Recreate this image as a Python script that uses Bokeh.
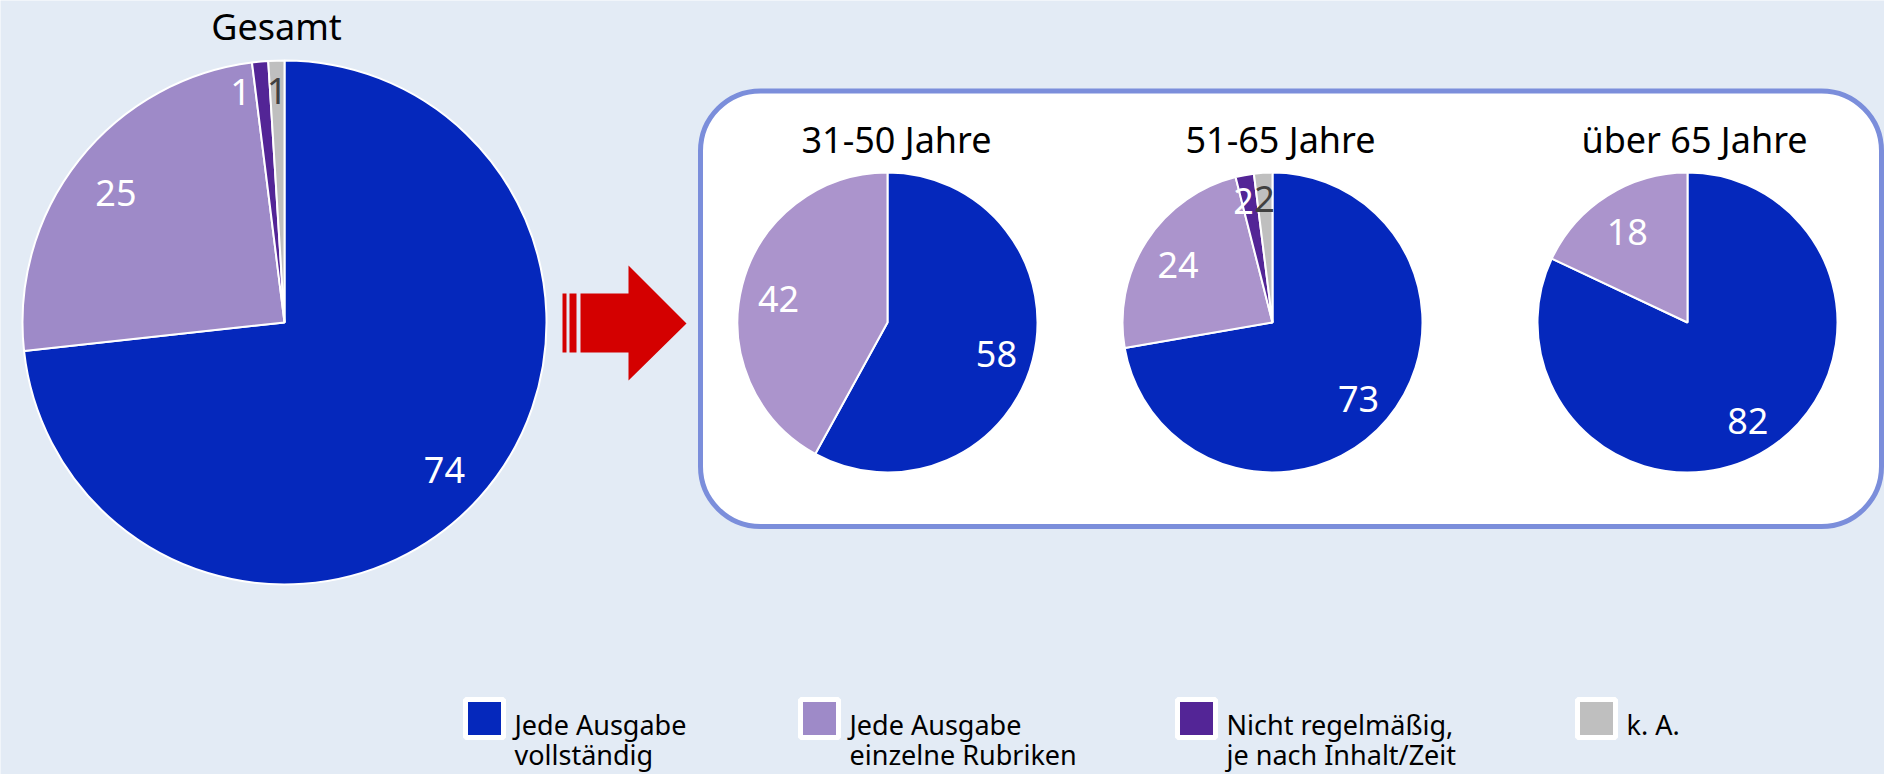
import math
from bokeh.plotting import figure
from bokeh.models import Range1d, BoxAnnotation, ColumnDataSource
from bokeh.core.properties import value
from bokeh.embed import file_html
from bokeh.resources import INLINE

# ---------------- data ----------------
categories = ["Jede Ausgabe\nvollständig", "Jede Ausgabe\neinzelne Rubriken",
              "Nicht regelmäßig,\nje nach Inhalt/Zeit", "k. A."]
groups = ["Gesamt", "31-50 Jahre", "51-65 Jahre", "über 65 Jahre"]
gesamt = [74, 25, 1, 1]
jahre_31_50 = [58, 42, 0, 0]
jahre_51_65 = [73, 24, 2, 2]
jahre_ueber_65 = [82, 18, 0, 0]
series = [gesamt, jahre_31_50, jahre_51_65, jahre_ueber_65]

# ---------------- style ----------------
BG = "#E3EBF5"
BLUE = "#0528BC"
LAV_BIG = "#9E8AC8"
LAV_SMALL = "#AB94CC"
PURPLE = "#532596"
GRAY = "#BFBFBF"
FONT = value("Noto Sans")

W, H = 1884, 774


def Y(py):
    return H - py


p = figure(width=W, height=H, output_backend="svg", toolbar_location=None,
           x_range=Range1d(0, W), y_range=Range1d(0, H),
           min_border=0, outline_line_color=None,
           background_fill_color=BG, border_fill_color=BG)
p.axis.visible = False
p.grid.visible = False

# rounded white box behind the age-group pies
box = BoxAnnotation(left=700, right=1881, top=Y(90.5), bottom=Y(526),
                    fill_color="white", fill_alpha=1.0,
                    line_color="#7B8EDB", line_width=5, line_alpha=1.0,
                    border_radius=60, level="underlay")
p.add_layout(box)

# red arrow
p.patch(x=[580, 628, 628, 686, 628, 628, 580],
        y=[Y(293), Y(293), Y(265), Y(323), Y(380), Y(352), Y(352)],
        fill_color="#D40000", line_color=None)
p.quad(left=[562, 569], right=[566, 576], top=[Y(293)] * 2, bottom=[Y(352)] * 2,
       fill_color="#D40000", line_color=None)

# pies: (center x, center y, radius, lavender colour, label radius factors)
layouts = [
    (284, 322, 262, LAV_BIG, 0.82, 0.90),
    (887, 322, 150, LAV_SMALL, 0.75, 0.85),
    (1272, 322, 150, LAV_SMALL, 0.75, 0.85),
    (1687, 322, 150, LAV_SMALL, 0.75, 0.85),
]
title_pos = [(276, 26), (896, 139), (1280, 139), (1694, 139)]

for vals, (cx, cy, r, lav, f_big, f_small), grp, (tx, ty) in zip(series, layouts, groups, title_pos):
    colors = [BLUE, lav, PURPLE, GRAY]
    label_colors = ["white", "white", "white", "#404040"]
    total = float(sum(vals))
    cum = 0.0
    d = dict(start=[], end=[], color=[])
    lab = dict(x=[], y=[], text=[], color=[], small=[])
    for v, c, lc in zip(vals, colors, label_colors):
        if v <= 0:
            continue
        c0 = cum / total
        c1 = (cum + v) / total
        cum += v
        d["start"].append(math.pi / 2 - 2 * math.pi * c1)
        d["end"].append(math.pi / 2 - 2 * math.pi * c0)
        d["color"].append(c)
        mid = math.pi / 2 - 2 * math.pi * (c0 + c1) / 2
        small = v / total < 0.03
        fr = f_small if small else f_big
        lab["x"].append(cx + fr * r * math.cos(mid))
        lab["y"].append(Y(cy) - 4 + fr * r * math.sin(mid))
        lab["text"].append(str(v))
        lab["color"].append(lc)
        lab["small"].append(small)
    # nudge neighbouring small-slice labels apart (as the original does)
    min_sep = 0.14 * r
    for i in range(len(lab["x"]) - 2, -1, -1):
        if lab["small"][i] and lab["small"][i + 1]:
            if lab["x"][i + 1] - lab["x"][i] < min_sep:
                lab["x"][i] = lab["x"][i + 1] - min_sep
    lab.pop("small")
    src = ColumnDataSource(d)
    p.wedge(x=cx, y=Y(cy), radius=r, start_angle="start", end_angle="end",
            fill_color="color", line_color="white", line_width=2, source=src)
    p.text(x="x", y="y", text="text", text_color="color", source=ColumnDataSource(lab),
           text_align="center", text_baseline="middle", text_font=FONT,
           text_font_size="36px")
    p.text(x=[tx], y=[Y(ty)], text=[grp], text_color="black", text_align="center",
           text_baseline="middle", text_font=FONT, text_font_size="36px")

# legend
leg_x = [484, 819, 1196, 1596]
leg_colors = [BLUE, LAV_BIG, PURPLE, GRAY]
p.rect(x=leg_x, y=[Y(718)] * 4, width=38, height=38, fill_color=leg_colors,
       line_color="white", line_width=5)
for lx, cat in zip(leg_x, categories):
    for i, line in enumerate(cat.split("\n")):
        p.text(x=[lx + 30], y=[Y(724 + 30 * i)], text=[line], text_color="black",
               text_align="left", text_baseline="middle", text_font=FONT,
               text_font_size="27px")

open("out.html", "w").write(file_html(p, INLINE))
